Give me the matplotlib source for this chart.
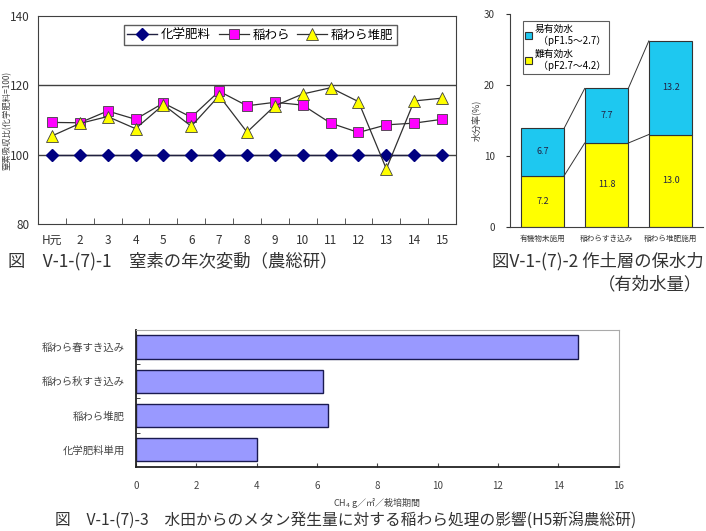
import numpy as np
import matplotlib.pyplot as plt

plt.rcParams['font.family'] = ['Noto Sans CJK JP', 'DejaVu Sans']

# chart 1: nitrogen by year
years = ['H元', '2', '3', '4', '5', '6', '7', '8', '9', '10', '11', '12', '13', '14', '15']
chem = [100] * 15
straw = [109.3, 109.2, 112.6, 110.2, 114.9, 110.8, 118.3, 114.1, 115.1, 114.3,
         109.1, 106.4, 108.6, 109.1, 110.2]
compost = [105.4, 109.0, 111.0, 107.5, 114.4, 108.2, 117.0, 106.5, 114.1, 117.5,
           119.3, 115.3, 95.9, 115.5, 116.3]

# chart 2: water holding
soil_cats = ['有機物未施用', '稲わらすき込み', '稲わら堆肥施用']
hard_water = [7.2, 11.8, 13.0]
easy_water = [6.7, 7.7, 13.2]

# chart 3: methane
meth_cats = ['化学肥料単用', '稲わら堆肥', '稲わら秋すき込み', '稲わら春すき込み']
methane = [4.02, 6.38, 6.19, 14.64]

W, H = 706, 531
fig = plt.figure(figsize=(W / 100, H / 100), dpi=100)


def rect(x0, y0, x1, y1):
    return [x0 / W, 1 - y1 / H, (x1 - x0) / W, (y1 - y0) / H]


# ---- chart 1
ax1 = fig.add_axes(rect(38, 16, 456, 224))
x = np.arange(1, len(years) + 1)
ax1.plot(x, chem, color='#202040', lw=1, marker='D', ms=6,
         mfc='#000080', mec='#000080', label='化学肥料', zorder=3)
ax1.plot(x, straw, color='#303030', lw=0.9, marker='s', ms=7.5,
         mfc='#FF00FF', mec='#404040', mew=0.6, label='稲わら', zorder=3)
ax1.plot(x, compost, color='#303030', lw=0.9, marker='^', ms=8,
         mfc='#FFFF00', mec='#404040', mew=0.6, label='稲わら堆肥', zorder=3)
ax1.set_xlim(0.5, 15.5)
ax1.set_ylim(80, 140)
ax1.set_yticks([80, 100, 120, 140])
for v in [100, 120]:
    ax1.axhline(v, color='#404040', lw=1, zorder=1)
ax1.set_xticks(x)
ax1.set_xticklabels(years)
ax1.set_xticks(np.arange(1.5, 15.5, 1), minor=True)
ax1.tick_params(axis='x', which='major', length=0, labelsize=8.5, pad=7, colors='#333333')
ax1.tick_params(axis='x', which='minor', direction='in', length=4, color='#404040')
ax1.tick_params(axis='y', length=0, labelsize=8.5, colors='#333333', pad=6)
for s in ax1.spines.values():
    s.set_color('#404040')
ax1.set_ylabel('窒素吸収比(化学肥料=100)', fontsize=6, color='#444444')
ax1.yaxis.set_label_coords(-0.064, 0.5)
leg1 = ax1.legend(loc='upper center', bbox_to_anchor=(0.532, 0.985), ncol=3, fontsize=9,
                  frameon=True, fancybox=False, edgecolor='#333333', handlelength=2.4,
                  handletextpad=0.3, columnspacing=0.6, borderpad=0.25)
leg1.get_frame().set_linewidth(1)

# ---- chart 2
ax2 = fig.add_axes(rect(510, 14, 703, 226.7))
xs = np.arange(len(soil_cats))
bw = 0.68
ax2.bar(xs, hard_water, bw, color='#FFFF00', edgecolor='#333333', lw=0.8,
        label='難有効水\n  （pF2.7～4.2）', zorder=2)
ax2.bar(xs, easy_water, bw, bottom=hard_water, color='#1EC8F0', edgecolor='#333333', lw=0.8,
        label='易有効水\n  （pF1.5～2.7）', zorder=2)
totals = [a + b for a, b in zip(hard_water, easy_water)]
for i in range(len(xs) - 1):
    ax2.plot([xs[i] + bw / 2, xs[i + 1] - bw / 2], [hard_water[i], hard_water[i + 1]],
             color='#333333', lw=0.7)
    ax2.plot([xs[i] + bw / 2, xs[i + 1] - bw / 2], [totals[i], totals[i + 1]],
             color='#333333', lw=0.7)
for i in xs:
    ax2.text(i, hard_water[i] / 2, f'{hard_water[i]:.1f}', ha='center', va='center',
             fontsize=6.5, color='#222244')
    ax2.text(i, hard_water[i] + easy_water[i] / 2, f'{easy_water[i]:.1f}', ha='center',
             va='center', fontsize=6.5, color='#222244')
ax2.set_xlim(-0.505, 2.505)
ax2.set_ylim(0, 30)
ax2.set_yticks([0, 10, 20, 30])
ax2.set_xticks(xs)
ax2.set_xticklabels(soil_cats)
ax2.tick_params(axis='x', length=0, labelsize=5.5, colors='#333333', pad=6)
ax2.tick_params(axis='y', length=3, labelsize=7, colors='#333333', pad=8)
ax2.spines['top'].set_visible(False)
ax2.spines['right'].set_visible(False)
for s in ['left', 'bottom']:
    ax2.spines[s].set_color('#404040')
ax2.set_ylabel('水分率(%)', fontsize=6.5, color='#444444', labelpad=2)
h, l = ax2.get_legend_handles_labels()
leg2 = ax2.legend(h[::-1], l[::-1], loc='upper left', bbox_to_anchor=(0.04, 0.99), fontsize=7,
                  frameon=True, fancybox=False, edgecolor='#333333', handlelength=0.7,
                  handleheight=0.7, handletextpad=0.2, borderpad=0.3, labelspacing=0.3)
leg2.get_frame().set_linewidth(0.8)

# ---- chart 3
ax3 = fig.add_axes(rect(136, 330, 618.7, 466.7))
ys = np.arange(len(meth_cats))
ax3.barh(ys, methane, 0.68, color='#9999FF', edgecolor='#1a1a50', lw=1, zorder=2)
ax3.set_xlim(0, 16)
ax3.set_ylim(-0.5, 3.5)
ax3.set_xticks(np.arange(0, 17, 2))
ax3.set_yticks(ys)
ax3.set_yticklabels(meth_cats)
ax3.set_yticks(np.arange(0.5, 3.5, 1), minor=True)
ax3.tick_params(axis='y', which='major', length=0, labelsize=7.5, colors='#444444', pad=8)
ax3.tick_params(axis='y', which='minor', direction='in', length=3, color='#222222')
ax3.tick_params(axis='x', direction='in', length=3, labelsize=7, colors='#444444', pad=10)
ax3.spines['top'].set_color('#aaaaaa')
ax3.spines['right'].set_color('#aaaaaa')
ax3.spines['left'].set_color('#222222')
ax3.spines['bottom'].set_color('#222222')
ax3.spines['left'].set_linewidth(1.3)
ax3.spines['bottom'].set_linewidth(1.3)
ax3.set_xlabel('CH$_4$ g／㎡／栽培期間', fontsize=6.5, color='#444444', labelpad=3)

# ---- captions
fig.text(8 / W, 1 - 261 / H, '図　V-1-(7)-1　窒素の年次変動（農総研）', fontsize=12.5,
         va='center', ha='left', color='#333333')
fig.text(704 / W, 1 - 261 / H, '図V-1-(7)-2 作土層の保水力', fontsize=12.5,
         va='center', ha='right', color='#333333')
fig.text(702 / W, 1 - 284 / H, '（有効水量）', fontsize=12.5,
         va='center', ha='right', color='#333333')
fig.text(55 / W, 1 - 521 / H,
         '図　V-1-(7)-3　水田からのメタン発生量に対する稲わら処理の影響(H5新潟農総研)',
         fontsize=11.3, va='center', ha='left', color='#333333')

fig.savefig('out.png', dpi=100)
